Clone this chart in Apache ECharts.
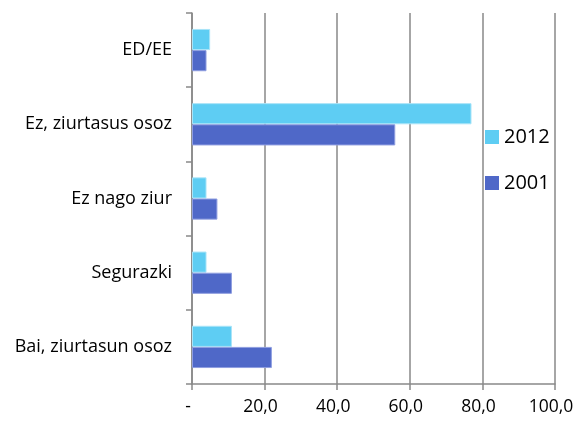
<!DOCTYPE html>
<html>
<head>
<meta charset="utf-8">
<script src="https://cdn.jsdelivr.net/npm/echarts@6/dist/echarts.min.js"></script>
<style>
  html, body { margin: 0; padding: 0; background: #fff; }
  #chart { width: 577px; height: 421px; }
</style>
</head>
<body>
<div id="chart"></div>
<script>
// kategoriak (goitik behera)
var categories = ['ED/EE', 'Ez, ziurtasus osoz', 'Ez nago ziur', 'Segurazki', 'Bai, ziurtasun osoz'];
// urteko balioak (%)
var values2012 = [5.0, 77.0, 4.0, 4.0, 11.0];
var values2001 = [4.0, 56.0, 7.0, 11.0, 22.0];
// x ardatzeko etiketak
var xTickLabels = ['-', '20,0', '40,0', '60,0', '80,0', '100,0'];

var myChart = echarts.init(document.getElementById('chart'));
var gray = '#898989';
var option = {
  animation: false,
  textStyle: { fontFamily: 'Open Sans' },
  legend: {
    orient: 'vertical',
    left: 485,
    top: 127,
    padding: 0,
    itemWidth: 14,
    itemHeight: 14,
    itemGap: 26,
    icon: 'rect',
    itemStyle: { borderWidth: 0 },
    textStyle: { fontSize: 20, lineHeight: 20, color: '#000', fontFamily: 'Open Sans' },
    data: ['2012', '2001']
  },
  grid: {
    left: 192,
    right: 22,
    top: 13,
    bottom: 37,
    containLabel: false
  },
  xAxis: {
    type: 'value',
    min: 0,
    max: 100,
    interval: 20,
    axisLine: { show: true, lineStyle: { color: gray, width: 1.5 } },
    axisTick: { show: true, length: 6, lineStyle: { color: gray, width: 1.5 } },
    splitLine: { show: true, lineStyle: { color: gray, width: 1.5 } },
    axisLabel: {
      margin: 14,
      fontSize: 17.5,
      color: '#000',
      padding: [0, 8, 0, 0],
      formatter: function (v) { return xTickLabels[Math.round(v / 20)]; }
    }
  },
  yAxis: {
    type: 'category',
    inverse: true,
    data: categories,
    axisLine: { show: true, lineStyle: { color: gray, width: 1.5 } },
    axisTick: { show: true, length: 6, lineStyle: { color: gray, width: 1.5 } },
    axisLabel: { margin: 20, fontSize: 18, color: '#000' }
  },
  series: [
    {
      name: '2012',
      type: 'bar',
      data: values2012,
      barGap: '0%',
      barCategoryGap: '43%',
      itemStyle: { color: '#5ecdf3', borderColor: '#a9e4f8', borderWidth: 1 }
    },
    {
      name: '2001',
      type: 'bar',
      data: values2001,
      barGap: '0%',
      barCategoryGap: '43%',
      itemStyle: { color: '#4f68c8', borderColor: '#8f9ee0', borderWidth: 1 }
    }
  ]
};
myChart.setOption(option);
window.addEventListener('resize', function () {
  myChart.resize();
});
</script>
</body>
</html>
